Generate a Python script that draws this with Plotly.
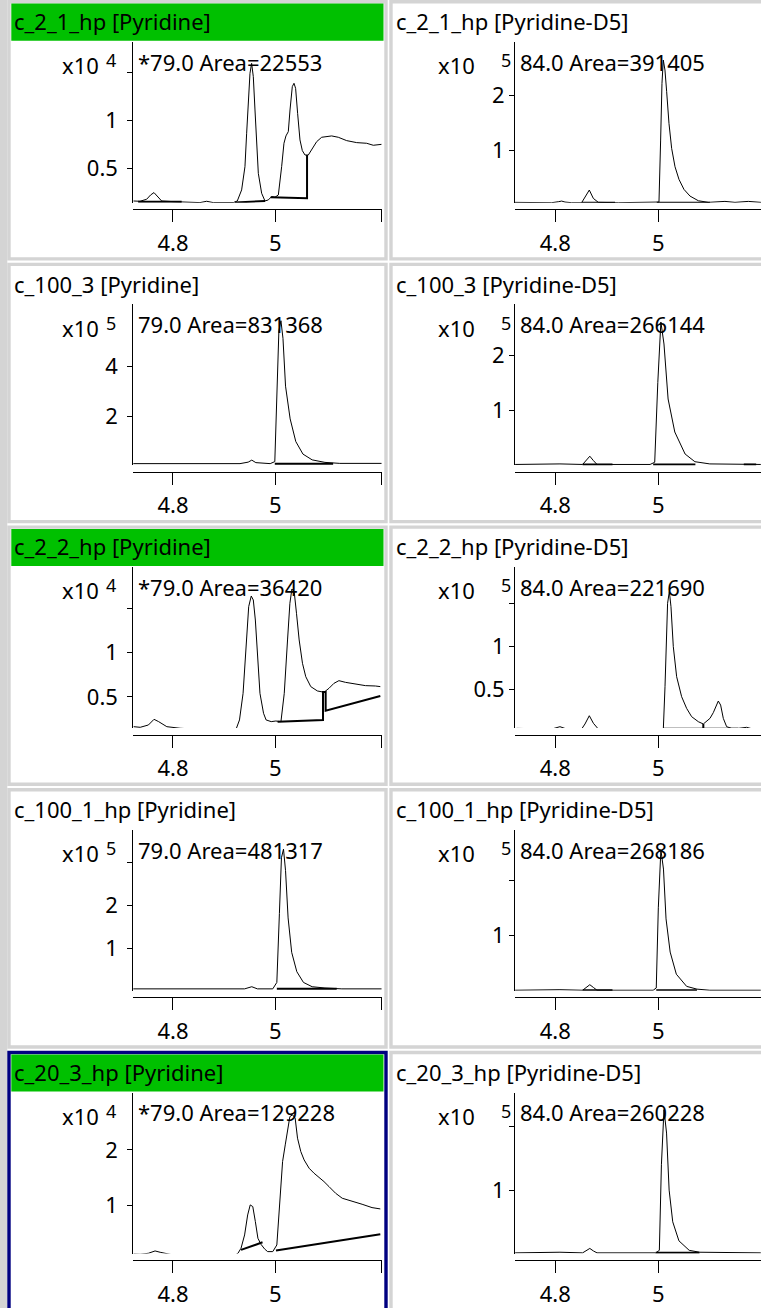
import plotly.graph_objects as go

W, H = 761, 1308
PITCH = 262.7
FONT = "Noto Sans"

# ---------------- data ----------------
titles = ["c_2_1_hp [Pyridine]", "c_2_1_hp [Pyridine-D5]",
          "c_100_3 [Pyridine]", "c_100_3 [Pyridine-D5]",
          "c_2_2_hp [Pyridine]", "c_2_2_hp [Pyridine-D5]",
          "c_100_1_hp [Pyridine]", "c_100_1_hp [Pyridine-D5]",
          "c_20_3_hp [Pyridine]", "c_20_3_hp [Pyridine-D5]"]
area_labels = ["*79.0 Area=22553", "84.0 Area=391405",
               "79.0 Area=831368", "84.0 Area=266144",
               "*79.0 Area=36420", "84.0 Area=221690",
               "79.0 Area=481317", "84.0 Area=268186",
               "*79.0 Area=129228", "84.0 Area=260228"]
exponents = ["4", "5", "5", "5", "4", "5", "5", "5", "4", "5"]
highlighted = [True, False, False, False, True, False, False, False, True, False]
selected_panel = 8

x_tickvals = [4.8, 5.0]
x_ticktext = ["4.8", "5"]

# y ranges (x10^exp units) and y ticks per panel
y_ranges = [[0.139, 1.827], [0.031, 2.994], [0.05, 6.45], [-0.007, 2.92], [0.149, 1.965],
            [0.046, 1.932], [0.005, 3.75], [0.0, 2.91], [0.14, 3.03], [0.0, 2.54]]
y_tickvals = [[0.5, 1, 1.5], [1, 2], [2, 4], [1, 2], [0.5, 1, 1.5],
              [0.5, 1, 1.5], [1, 2, 3], [1, 2], [1, 2], [1, 2]]
y_ticktext = [["0.5", "1", ""], ["1", "2"], ["2", "4"], ["1", "2"], ["0.5", "1", ""],
              ["0.5", "1", ""], ["1", "2", ""], ["1", ""], ["1", "2"], ["1", ""]]

# Panel A: c_2_1_hp [Pyridine]
A_t = [4.7225, 4.7355, 4.7485, 4.7563, 4.7629, 4.7694, 4.7779, 4.8007, 4.8267, 4.8528,
       4.8658, 4.8788, 4.9179, 4.9257, 4.9342, 4.9407, 4.9440, 4.9472, 4.9505, 4.9537,
       4.9570, 4.9603, 4.9635, 4.9668, 4.9733, 4.9798, 4.9863, 4.9928, 4.9993, 5.0059,
       5.0124, 5.0169, 5.0208, 5.0254, 5.0287, 5.0332, 5.0365, 5.0397, 5.0436, 5.0482,
       5.0528, 5.0580, 5.0645, 5.0710, 5.0808, 5.0906, 5.1003, 5.1101, 5.1231, 5.1394,
       5.1590, 5.1785, 5.1915, 5.2078]
A_v = [0.157, 0.154, 0.175, 0.220, 0.245, 0.203, 0.157, 0.150, 0.143, 0.140,
       0.154, 0.140, 0.140, 0.157, 0.273, 0.517, 0.867, 1.216, 1.495, 1.600,
       1.461, 1.111, 0.762, 0.447, 0.238, 0.157, 0.168, 0.203, 0.196, 0.220,
       0.517, 0.762, 0.839, 0.884, 1.111, 1.356, 1.391, 1.338, 1.076, 0.797,
       0.685, 0.639, 0.639, 0.692, 0.779, 0.825, 0.832, 0.839, 0.825, 0.790,
       0.769, 0.762, 0.741, 0.751]
A_base_t = [4.732, 4.817, None, 4.921, 4.980, None, 4.991, 5.062, 5.062]
A_base_v = [0.150, 0.150, None, 0.140, 0.157, None, 0.196, 0.185, 0.639]

# Panel B: c_2_1_hp [Pyridine-D5]
B_t = [4.7217, 4.7605, 4.7929, 4.8058, 4.8123, 4.8188, 4.8317, 4.8511, 4.8576, 4.8660,
       4.8738, 4.8835, 4.9223, 4.9612, 4.9968, 5.0013, 5.0045, 5.0071, 5.0097, 5.0129,
       5.0162, 5.0207, 5.0259, 5.0324, 5.0401, 5.0498, 5.0615, 5.0777, 5.0971, 5.1165,
       5.1294, 5.1489, 5.1748, 5.1993]
B_v = [0.037, 0.031, 0.031, 0.049, 0.061, 0.043, 0.031, 0.031, 0.129, 0.264,
       0.110, 0.037, 0.031, 0.031, 0.031, 0.043, 1.184, 2.227, 2.656, 2.472,
       2.074, 1.491, 1.031, 0.693, 0.460, 0.276, 0.153, 0.067, 0.037, 0.043,
       0.055, 0.037, 0.055, 0.037]
B_base_t = [4.851, 4.916, None, 4.997, 5.100]
B_base_v = [0.031, 0.031, None, 0.031, 0.031]

# Panel C: c_100_3 [Pyridine]
C_t = [4.722, 4.853, 4.931, 4.947, 4.954, 4.962, 4.990, 4.999, 5.003, 5.007,
       5.011, 5.015, 5.020, 5.029, 5.040, 5.054, 5.072, 5.097, 5.126, 5.208]
C_v = [0.12, 0.12, 0.12, 0.18, 0.26, 0.16, 0.12, 0.2, 2.6, 5.4,
       5.8, 5.1, 3.2, 1.9, 1.0, 0.5, 0.27, 0.17, 0.13, 0.13]
C_base_t = [4.999, 5.113]
C_base_v = [0.12, 0.12]

# Panel D: c_100_3 [Pyridine-D5]
D_t = [4.722, 4.809, 4.853, 4.860, 4.867, 4.874, 4.881, 4.984, 4.993, 4.999,
       5.005, 5.011, 5.019, 5.032, 5.052, 5.071, 5.100, 5.199]
D_v = [0.01, 0.02, 0.01, 0.08, 0.16, 0.08, 0.01, 0.01, 0.05, 1.5,
       2.6, 2.2, 1.2, 0.6, 0.2, 0.06, 0.02, 0.01]
D_base_t = [4.853, 4.911, None, 4.990, 5.072, None, 5.166, 5.190]
D_base_v = [0.01, 0.01, None, 0.01, 0.01, None, 0.01, 0.01]

# Panel E: c_2_2_hp [Pyridine]
E_t = [4.723, 4.736, 4.752, 4.763, 4.772, 4.788, 4.814, 4.852, 4.885, 4.917,
       4.924, 4.930, 4.937, 4.943, 4.948, 4.953, 4.957, 4.961, 4.966, 4.970,
       4.977, 4.982, 4.992, 5.001, 5.011, 5.0175, 5.0239, 5.0285, 5.0324, 5.0369,
       5.0414, 5.0466, 5.0531, 5.0595, 5.0693, 5.0822, 5.0951, 5.1049, 5.1146, 5.1243,
       5.1372, 5.1566, 5.1761, 5.1955, 5.2052]
E_v = [0.165, 0.158, 0.184, 0.248, 0.222, 0.165, 0.147, 0.135, 0.139, 0.135,
       0.147, 0.241, 0.541, 1.068, 1.519, 1.639, 1.594, 1.368, 0.917, 0.541,
       0.316, 0.241, 0.222, 0.229, 0.222, 0.541, 1.143, 1.556, 1.718, 1.688,
       1.444, 1.143, 0.880, 0.729, 0.617, 0.568, 0.553, 0.598, 0.654, 0.684,
       0.665, 0.643, 0.628, 0.624, 0.617]
E_base_t = [5.0045, 5.0932, 5.0932, 5.0984, 5.0984, 5.2052]
E_base_v = [0.222, 0.241, 0.556, 0.556, 0.345, 0.511]

# Panel F: c_2_2_hp [Pyridine-D5]
F_t = [4.7249, 4.7605, 4.793, 4.809, 4.822, 4.851, 4.8576, 4.866, 4.874, 4.8835,
       4.922, 4.961, 5.0097, 5.013, 5.018, 5.0214, 5.0246, 5.0291, 5.0356, 5.0453,
       5.055, 5.0647, 5.0777, 5.0874, 5.1003, 5.1068, 5.1120, 5.1165, 5.1210, 5.1262,
       5.1327, 5.1424, 5.1553, 5.1715, 5.1812, 5.1993]
F_v = [0.043, 0.035, 0.035, 0.0625, 0.035, 0.035, 0.094, 0.191, 0.102, 0.035,
       0.031, 0.027, 0.027, 0.531, 1.508, 1.645, 1.469, 1.0, 0.648, 0.414,
       0.277, 0.180, 0.121, 0.094, 0.160, 0.227, 0.297, 0.363, 0.316, 0.160,
       0.0625, 0.043, 0.043, 0.055, 0.039, 0.039]
F_base_t = [4.851, 4.881, None, 5.0097, 5.0874, 5.0874, None, 5.0874, 5.1553]
F_base_v = [0.035, 0.035, None, 0.039, 0.039, 0.094, None, 0.039, 0.039]

# Panel G: c_100_1_hp [Pyridine]
G_t = [4.722, 4.853, 4.940, 4.954, 4.965, 4.995, 5.003, 5.008, 5.012, 5.016,
       5.020, 5.025, 5.032, 5.042, 5.055, 5.072, 5.097, 5.130, 5.208]
G_v = [0.05, 0.05, 0.05, 0.1, 0.05, 0.05, 0.2, 1.8, 3.1, 3.3,
       2.8, 1.7, 0.9, 0.45, 0.2, 0.1, 0.07, 0.05, 0.05]
G_base_t = [5.003, 5.120]
G_base_v = [0.05, 0.05]

# Panel H: c_100_1_hp [Pyridine-D5]
H_t = [4.722, 4.809, 4.853, 4.860, 4.867, 4.874, 4.881, 4.990, 4.996, 5.000,
       5.005, 5.010, 5.015, 5.023, 5.035, 5.055, 5.075, 5.100, 5.199]
H_v = [0.01, 0.02, 0.01, 0.06, 0.11, 0.06, 0.01, 0.01, 0.05, 1.5,
       2.55, 2.2, 1.3, 0.7, 0.3, 0.08, 0.03, 0.01, 0.01]
H_base_t = [4.853, 4.911, None, 4.996, 5.075]
H_base_v = [0.01, 0.01, None, 0.01, 0.01]

# Panel I: c_20_3_hp [Pyridine]
I_t = [4.723, 4.736, 4.752, 4.765, 4.775, 4.800, 4.827, 4.852, 4.885, 4.920,
       4.927, 4.933, 4.940, 4.946, 4.951, 4.956, 4.961, 4.966, 4.972, 4.979,
       4.985, 4.995, 5.003, 5.008, 5.0142, 5.0194, 5.024, 5.0285, 5.0337, 5.0388,
       5.0434, 5.0498, 5.0563, 5.0660, 5.0757, 5.0854, 5.0951, 5.1049, 5.1178, 5.1308,
       5.1502, 5.1696, 5.1890, 5.2052]
I_v = [0.132, 0.126, 0.144, 0.186, 0.162, 0.114, 0.102, 0.102, 0.102, 0.102,
       0.144, 0.234, 0.473, 0.832, 1.012, 0.982, 0.713, 0.413, 0.305, 0.222,
       0.174, 0.174, 0.293, 0.892, 1.790, 2.090, 2.389, 2.599, 2.629, 2.569,
       2.210, 1.970, 1.820, 1.671, 1.581, 1.509, 1.431, 1.341, 1.222, 1.132,
       1.084, 1.024, 0.964, 0.940]
I_base_t = [4.933, 4.975, None, 5.0013, 5.2052]
I_base_v = [0.204, 0.341, None, 0.192, 0.485]

# Panel J: c_20_3_hp [Pyridine-D5]
J_t = [4.722, 4.809, 4.853, 4.860, 4.867, 4.874, 4.881, 4.995, 5.002, 5.006,
       5.011, 5.016, 5.021, 5.028, 5.040, 5.060, 5.080, 5.199]
J_v = [0.01, 0.02, 0.01, 0.05, 0.08, 0.04, 0.01, 0.01, 0.05, 1.4,
       2.27, 1.9, 1.0, 0.5, 0.2, 0.05, 0.02, 0.01]
J_base_t = [4.995, 5.080]
J_base_v = [0.01, 0.01]

series_t = [A_t, B_t, C_t, D_t, E_t, F_t, G_t, H_t, I_t, J_t]
series_v = [A_v, B_v, C_v, D_v, E_v, F_v, G_v, H_v, I_v, J_v]
base_t = [A_base_t, B_base_t, C_base_t, D_base_t, E_base_t, F_base_t, G_base_t, H_base_t, I_base_t, J_base_t]
base_v = [A_base_v, B_base_v, C_base_v, D_base_v, E_base_v, F_base_v, G_base_v, H_base_v, I_base_v, J_base_v]

for k in range(10):
    if len(series_t[k]) != len(series_v[k]):
        raise ValueError(f"panel {k}: {len(series_t[k])} vs {len(series_v[k])}")
    if len(base_t[k]) != len(base_v[k]):
        raise ValueError(f"panel {k} baseline length mismatch")

# ---------------- layout helpers (pixels -> paper) ----------------
def px(x):
    return x / W

def py(y):
    return 1 - y / H

GREY = "#d4d4d4"
GREEN = "#00c000"
NAVY = "#000080"
FS = 22

COLS = {
    0: dict(cell=(7.3, 387.7), xdom=(133.3, 381.7), xr=(4.7225, 5.2079),
            x10=101, expx=111.5, areax=136, endtick=True, standoff=5),
    1: dict(cell=(389.3, 775), xdom=(515.0, 761.0), xr=(4.7217, 5.1994),
            x10=477, expx=505.5, areax=518, endtick=False, standoff=0),
}

fig = go.Figure()
shapes = []
annotations = []
layout_axes = {}

# left grey strip
shapes.append(dict(type="rect", xref="paper", yref="paper", x0=px(0), x1=px(7.3),
                   y0=py(H), y1=py(0), fillcolor=GREY, line=dict(width=0), layer="below"))

for k in range(10):
    r, c = divmod(k, 2)
    T = r * PITCH
    col = COLS[c]
    cx0, cx1 = col["cell"]
    fcol = NAVY if k == selected_panel else GREY
    # frame
    shapes.append(dict(type="rect", xref="paper", yref="paper",
                       x0=px(cx0 + 1.7), x1=px(cx1 - 1.7), y0=py(T + 260.6 - 1.7), y1=py(T + 1.7),
                       fillcolor="white", line=dict(color=fcol, width=3.4), layer="below"))
    if highlighted[k]:
        shapes.append(dict(type="rect", xref="paper", yref="paper",
                           x0=px(cx0 + 4.0), x1=px(cx1 - 4.2), y0=py(T + 40.7), y1=py(T + 3.6),
                           fillcolor=GREEN, line=dict(width=0), layer="below"))
    # title
    annotations.append(dict(xref="paper", yref="paper", x=px(cx0 + 4.5), y=py(T + 21),
                            xanchor="left", yanchor="middle", text=titles[k], showarrow=False,
                            font=dict(family=FONT, size=FS, color="black")))
    # exponent label
    annotations.append(dict(xref="paper", yref="paper", x=px(col["x10"]), y=py(T + 65),
                            xanchor="right", yanchor="middle", text="x10", showarrow=False,
                            font=dict(family=FONT, size=FS, color="black")))
    annotations.append(dict(xref="paper", yref="paper", x=px(col["expx"]), y=py(T + 60),
                            xanchor="center", yanchor="middle", text=exponents[k], showarrow=False,
                            font=dict(family=FONT, size=18, color="black")))
    # area label
    annotations.append(dict(xref="paper", yref="paper", x=px(col["areax"]), y=py(T + 61.5),
                            xanchor="left", yanchor="middle", text=area_labels[k], showarrow=False,
                            font=dict(family=FONT, size=FS, color="black")))

    xa = "x" if k == 0 else f"x{k + 1}"
    ya = "y" if k == 0 else f"y{k + 1}"
    xkey = "xaxis" if k == 0 else f"xaxis{k + 1}"
    ykey = "yaxis" if k == 0 else f"yaxis{k + 1}"

    tv = list(x_tickvals)
    tt = list(x_ticktext)
    if col["endtick"]:
        tv.append(col["xr"][1] - 0.0005)
        tt.append("")

    layout_axes[xkey] = dict(domain=[px(col["xdom"][0]), px(col["xdom"][1])],
                             anchor="free", position=py(T + 209.3),
                             range=list(col["xr"]), tickvals=tv, ticktext=tt,
                             ticks="outside", ticklen=12, tickwidth=1, tickcolor="black",
                             showline=True, linecolor="black", linewidth=1,
                             showgrid=False, zeroline=False, fixedrange=True,
                             ticklabelstandoff=2,
                             tickfont=dict(family=FONT, size=FS, color="black"))
    layout_axes[ykey] = dict(domain=[py(T + 202.7), py(T + 41.7)], anchor=xa,
                             range=y_ranges[k], tickvals=y_tickvals[k], ticktext=y_ticktext[k],
                             ticks="outside", ticklen=5, tickwidth=1, tickcolor="black",
                             showline=True, linecolor="black", linewidth=1,
                             showgrid=False, zeroline=False, fixedrange=True,
                             ticklabelstandoff=col["standoff"],
                             tickfont=dict(family=FONT, size=FS, color="black"))

    fig.add_trace(go.Scatter(x=series_t[k], y=series_v[k], mode="lines",
                             line=dict(color="black", width=1), xaxis=xa, yaxis=ya,
                             showlegend=False, hoverinfo="skip"))
    fig.add_trace(go.Scatter(x=base_t[k], y=base_v[k], mode="lines",
                             line=dict(color="black", width=2), xaxis=xa, yaxis=ya,
                             showlegend=False, hoverinfo="skip", connectgaps=False))

fig.update_layout(width=W, height=H, margin=dict(l=0, r=0, t=0, b=0),
                  paper_bgcolor="white", plot_bgcolor="rgba(0,0,0,0)",
                  shapes=shapes, annotations=annotations, showlegend=False,
                  **layout_axes)

fig.write_html("out.html", config={"displayModeBar": False},
               post_script="document.body.style.margin='0px';document.body.style.overflow='hidden';")
